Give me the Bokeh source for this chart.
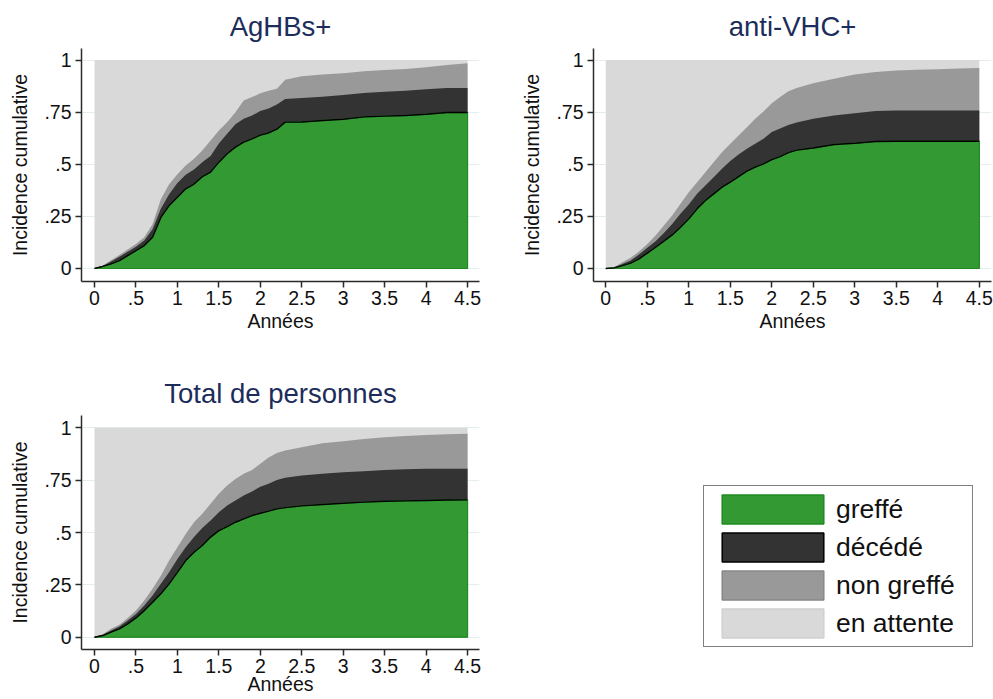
import numpy as np
from bokeh.plotting import figure
from bokeh.layouts import column, row
from bokeh.models import Range1d, FixedTicker, Legend, LegendItem
from bokeh.embed import file_html
from bokeh.resources import INLINE

# Temps depuis l'inscription sur liste (années)
annees = [0, 0.1, 0.2, 0.3, 0.4, 0.5, 0.6, 0.7, 0.8, 0.9, 1.0, 1.1, 1.2, 1.3, 1.4,
          1.5, 1.6, 1.7, 1.8, 1.9, 2.0, 2.1, 2.2, 2.3, 2.5, 2.75, 3.0, 3.25, 3.5,
          3.75, 4.0, 4.25, 4.5]

# Incidences cumulées empilées : greffé, + décédé, + non greffé
aghbs_greffe = [0, 0.010, 0.022, 0.038, 0.062, 0.086, 0.110, 0.150, 0.245, 0.302, 0.342,
                0.382, 0.405, 0.440, 0.462, 0.510, 0.550, 0.582, 0.606, 0.622, 0.640,
                0.650, 0.668, 0.702, 0.703, 0.710, 0.716, 0.727, 0.731, 0.734, 0.740,
                0.748, 0.748]
aghbs_decede = [0, 0.012, 0.034, 0.056, 0.080, 0.104, 0.134, 0.188, 0.287, 0.356, 0.410,
                0.450, 0.475, 0.510, 0.540, 0.600, 0.646, 0.692, 0.718, 0.734, 0.755,
                0.768, 0.786, 0.813, 0.818, 0.824, 0.832, 0.842, 0.848, 0.853, 0.860,
                0.866, 0.866]
aghbs_non_greffe = [0, 0.014, 0.040, 0.065, 0.091, 0.117, 0.150, 0.212, 0.332, 0.404, 0.452,
                    0.494, 0.526, 0.566, 0.614, 0.662, 0.702, 0.750, 0.806, 0.822, 0.840,
                    0.852, 0.862, 0.905, 0.922, 0.930, 0.936, 0.946, 0.952, 0.957, 0.965,
                    0.976, 0.984]

vhc_greffe = [0, 0.003, 0.014, 0.026, 0.046, 0.074, 0.102, 0.131, 0.161, 0.198, 0.238,
              0.286, 0.326, 0.358, 0.390, 0.414, 0.441, 0.467, 0.486, 0.502, 0.522,
              0.537, 0.556, 0.568, 0.578, 0.595, 0.601, 0.609, 0.610, 0.610, 0.610,
              0.610, 0.610]
vhc_decede = [0, 0.005, 0.022, 0.038, 0.067, 0.099, 0.131, 0.170, 0.214, 0.262, 0.307,
              0.358, 0.398, 0.438, 0.478, 0.515, 0.547, 0.574, 0.598, 0.622, 0.655,
              0.672, 0.688, 0.700, 0.718, 0.734, 0.745, 0.755, 0.758, 0.758, 0.758,
              0.758, 0.758]
vhc_non_greffe = [0, 0.006, 0.030, 0.051, 0.082, 0.118, 0.158, 0.206, 0.254, 0.310, 0.366,
                  0.414, 0.462, 0.510, 0.558, 0.598, 0.638, 0.678, 0.718, 0.753, 0.792,
                  0.822, 0.850, 0.866, 0.889, 0.910, 0.930, 0.942, 0.950, 0.953, 0.956,
                  0.959, 0.962]

total_greffe = [0, 0.008, 0.024, 0.040, 0.064, 0.092, 0.127, 0.167, 0.207, 0.255, 0.310,
                0.366, 0.406, 0.438, 0.478, 0.509, 0.528, 0.549, 0.565, 0.581, 0.592,
                0.602, 0.613, 0.619, 0.627, 0.634, 0.640, 0.645, 0.649, 0.651, 0.653,
                0.655, 0.656]
total_decede = [0, 0.012, 0.032, 0.051, 0.080, 0.111, 0.151, 0.199, 0.255, 0.310, 0.374,
                0.430, 0.478, 0.522, 0.557, 0.597, 0.629, 0.653, 0.677, 0.696, 0.718,
                0.733, 0.751, 0.762, 0.772, 0.780, 0.788, 0.793, 0.799, 0.802, 0.804,
                0.805, 0.805]
total_non_greffe = [0, 0.014, 0.040, 0.060, 0.092, 0.127, 0.175, 0.231, 0.294, 0.366, 0.430,
                    0.493, 0.549, 0.589, 0.637, 0.685, 0.724, 0.756, 0.780, 0.799, 0.828,
                    0.858, 0.880, 0.892, 0.907, 0.926, 0.936, 0.947, 0.955, 0.961, 0.966,
                    0.969, 0.971]

x_ticks = [0, 0.5, 1, 1.5, 2, 2.5, 3, 3.5, 4, 4.5]
x_tick_labels = ["0", ".5", "1", "1.5", "2", "2.5", "3", "3.5", "4", "4.5"]
y_ticks = [0, 0.25, 0.5, 0.75, 1]
y_tick_labels = ["0", ".25", ".5", ".75", "1"]

etats = ["greffé", "décédé", "non greffé", "en attente"]

FONT = "Liberation Sans"
GREEN, GREEN_EDGE = "#339933", "#1f8a1f"
DARK, MID, LIGHT = "#333333", "#999999", "#d9d9d9"
FILLS = [GREEN, DARK, MID, LIGHT]
EDGES = [GREEN_EDGE, "#000000", "#888888", "#d0d0d0"]
AXIS_COL = "#2a2a2a"
TITLE_COL = "#1c2d5c"


def panel(titre, greffe, decede, non_greffe, xr, yr, left, top, right, fh, xlab_standoff):
    p = figure(frame_width=398, frame_height=fh, x_range=Range1d(*xr), y_range=Range1d(*yr),
               min_border_left=left, min_border_top=top, min_border_right=right,
               min_border_bottom=0, toolbar_location=None, output_backend="svg",
               background_fill_color="white", border_fill_color="white")
    p.outline_line_color = None

    t = np.array(annees)
    g = np.array(greffe)
    gd = np.array(decede)
    gdn = np.array(non_greffe)
    tous = np.ones_like(t)  # chaque personne est dans l'un des quatre états

    # bandes peintes du haut vers le bas pour éviter les liserés blancs
    p.varea(x=t, y1=0, y2=tous, fill_color=LIGHT)
    p.varea(x=t, y1=0, y2=gdn, fill_color=MID)
    p.varea(x=t, y1=0, y2=gd, fill_color=DARK)
    p.patch(x=np.r_[t, t[-1], t[0]], y=np.r_[g, 0, 0], fill_color=GREEN,
            line_color=GREEN_EDGE, line_width=1.2)
    p.line(x=t, y=g, line_color="black", line_width=1.4)

    p.title.text = titre
    p.title.align = "center"
    p.title.text_font = FONT
    p.title.text_font_size = "27.5px"
    p.title.text_font_style = "normal"
    p.title.text_color = TITLE_COL
    p.title.standoff = 14

    p.xaxis.ticker = FixedTicker(ticks=x_ticks)
    p.xaxis.major_label_overrides = dict(zip(x_ticks, x_tick_labels))
    p.yaxis.ticker = FixedTicker(ticks=y_ticks)
    p.yaxis.major_label_overrides = dict(zip(y_ticks, y_tick_labels))
    p.xaxis.axis_label = "Années"
    p.yaxis.axis_label = "Incidence cumulative"
    p.yaxis.major_label_orientation = "horizontal"

    for ax in (p.xaxis, p.yaxis):
        ax.axis_line_color = AXIS_COL
        ax.axis_line_width = 1.5
        ax.major_tick_line_color = AXIS_COL
        ax.major_tick_line_width = 1.5
        ax.major_tick_out = 6
        ax.major_tick_in = 0
        ax.minor_tick_line_color = None
        ax.major_label_text_font = FONT
        ax.major_label_text_font_size = "19.5px"
        ax.major_label_text_color = "#111111"
        ax.axis_label_text_font = FONT
        ax.axis_label_text_font_size = "19.5px"
        ax.axis_label_text_font_style = "normal"
        ax.axis_label_text_color = "#111111"
    p.xaxis.major_label_standoff = 3
    p.xaxis.axis_label_standoff = xlab_standoff
    p.yaxis.major_label_standoff = 4
    p.yaxis.axis_label_standoff = 10

    p.xgrid.visible = False
    p.ygrid.ticker = FixedTicker(ticks=y_ticks)
    p.ygrid.grid_line_color = "#e3ecef"
    p.ygrid.grid_line_width = 1
    return p


p1 = panel("AgHBs+", aghbs_greffe, aghbs_decede, aghbs_non_greffe,
           (-0.157, 4.644), (-0.0624, 1.0552), 81, 48, 17, 233, 2)
p1.min_border_bottom = 69
p2 = panel("anti-VHC+", vhc_greffe, vhc_decede, vhc_non_greffe,
           (-0.148, 4.647), (-0.0624, 1.0552), 97, 48, 2, 233, 2)
p2.min_border_bottom = 69
p3 = panel("Total de personnes", total_greffe, total_decede, total_non_greffe,
           (-0.157, 4.644), (-0.0587, 1.0587), 81, 65, 17, 234, -3)

# Légende commune dans la case libre, mêmes marges haut/bas que le panneau voisin
p4 = figure(frame_width=360, frame_height=234, x_range=Range1d(0, 1), y_range=Range1d(0, 1),
            min_border_left=137, min_border_top=65, min_border_right=0, min_border_bottom=50,
            toolbar_location=None, output_backend="svg",
            x_axis_location=None, y_axis_location=None,
            background_fill_color="white", border_fill_color="white")
p4.outline_line_color = None
p4.grid.visible = False
items = []
for nom, fill, edge in zip(etats, FILLS, EDGES):
    # renderer sans position tracée : il ne sert qu'à l'échantillon de légende
    r = p4.quad(left=[np.nan], right=[np.nan], top=[np.nan], bottom=[np.nan],
                fill_color=fill, line_color=edge, line_width=1.5)
    items.append(LegendItem(label=nom, renderers=[r]))
# l'échantillon est dessiné à 80 % de la case : case de 127.5 x 35.6 -> 102 x 28.5
legend = Legend(items=items, location="top_left", orientation="vertical",
                glyph_width=127, glyph_height=36, label_height=28, spacing=2,
                padding=5, margin=70, label_standoff=0, label_width=131,
                label_text_font=FONT, label_text_font_size="26.5px",
                label_text_color="#111111",
                border_line_color="black", border_line_width=1,
                background_fill_color="white", background_fill_alpha=1)
p4.add_layout(legend, "center")

layout = column(row(p1, p2), row(p3, p4))

with open("out.html", "w") as f:
    f.write(file_html(layout, INLINE))
